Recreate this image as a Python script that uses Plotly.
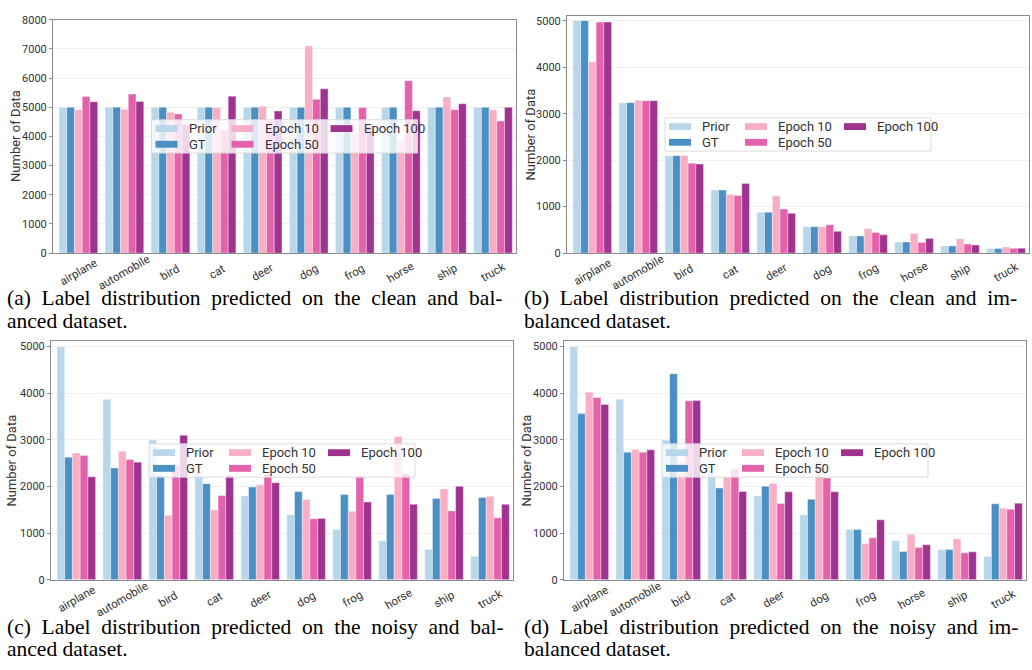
import plotly.graph_objects as go

W, H = 1032, 670

categories = ["airplane", "automobile", "bird", "cat", "deer", "dog", "frog", "horse", "ship", "truck"]
series_names = ["Prior", "GT", "Epoch 10", "Epoch 50", "Epoch 100"]
colors = ["#b9d7ea", "#4a90c4", "#f8aec5", "#e462ab", "#a0338f"]

# (a) clean, balanced
a_prior = [5000, 5000, 5000, 5000, 5000, 5000, 5000, 5000, 5000, 5000]
a_gt = [5000, 5000, 5000, 5000, 5000, 5000, 5000, 5000, 5000, 5000]
a_e10 = [4910, 4930, 4830, 4990, 5030, 7100, 4100, 3840, 5350, 4910]
a_e50 = [5370, 5450, 4765, 4220, 4550, 5270, 4990, 5910, 4920, 4530]
a_e100 = [5190, 5200, 4400, 5380, 4870, 5630, 4330, 4880, 5120, 5000]

# (b) clean, imbalanced
b_prior = [5000, 3237, 2096, 1357, 879, 569, 368, 238, 154, 100]
b_gt = [5000, 3237, 2096, 1357, 879, 569, 368, 238, 154, 100]
b_e10 = [4116, 3290, 2100, 1262, 1227, 568, 526, 421, 309, 133]
b_e50 = [4970, 3280, 1935, 1241, 947, 610, 442, 231, 196, 105]
b_e100 = [4970, 3280, 1915, 1500, 855, 470, 393, 316, 175, 105]

# (c) noisy, balanced
c_prior = [5000, 3871, 2997, 2320, 1796, 1391, 1077, 834, 645, 500]
c_gt = [2626, 2395, 2240, 2058, 1987, 1889, 1826, 1826, 1742, 1763]
c_e10 = [2718, 2753, 1383, 1496, 2037, 1720, 1468, 3069, 1945, 1791]
c_e50 = [2662, 2577, 2444, 1805, 2261, 1306, 2226, 2275, 1475, 1327]
c_e100 = [2205, 2521, 3097, 2240, 2079, 1313, 1664, 1615, 2001, 1615]

# (d) noisy, imbalanced
d_prior = [5000, 3871, 2997, 2320, 1796, 1391, 1077, 834, 645, 500]
d_gt = [3562, 2735, 4418, 1964, 2006, 1725, 1077, 603, 645, 1627]
d_e10 = [4018, 2791, 2546, 2202, 2062, 2546, 778, 968, 877, 1529]
d_e50 = [3906, 2735, 3836, 2384, 1634, 2181, 898, 687, 575, 1508]
d_e100 = [3759, 2784, 3843, 1893, 1886, 1886, 1283, 750, 596, 1641]

y_ticks_a = [0, 1000, 2000, 3000, 4000, 5000, 6000, 7000, 8000]
y_ticks_b = [0, 1000, 2000, 3000, 4000, 5000]

captions = [
    ["(a) Label distribution predicted on the clean and bal-", "anced dataset."],
    ["(b) Label distribution predicted on the clean and im-", "balanced dataset."],
    ["(c) Label distribution predicted on the noisy and bal-", "anced dataset."],
    ["(d) Label distribution predicted on the noisy and im-", "balanced dataset."],
]

panels = [
    dict(data=[a_prior, a_gt, a_e10, a_e50, a_e100], box=(53, 14, 516, 252), yr=8000, ticks=y_ticks_a, title_x=15.5, cap=(5, 298)),
    dict(data=[b_prior, b_gt, b_e10, b_e50, b_e100], box=(567, 10, 1029, 252), yr=5105, ticks=y_ticks_b, title_x=530, cap=(522, 298)),
    dict(data=[c_prior, c_gt, c_e10, c_e50, c_e100], box=(51, 342, 513, 585), yr=5112, ticks=y_ticks_b, title_x=12, cap=(5, 633)),
    dict(data=[d_prior, d_gt, d_e10, d_e50, d_e100], box=(564, 342, 1026, 585), yr=5112, ticks=y_ticks_b, title_x=527, cap=(522, 633)),
]


def px(x):
    return x / W


def py(y):
    return 1 - y / H


JUST = " \u00a0"  # widened inter-word gap, mimicking justified text

fig = go.Figure()
shapes = []
annotations = []
layout = {}

for i, p in enumerate(panels):
    n = "" if i == 0 else str(i + 1)
    xa, ya = "x" + n, "y" + n
    x0, y0, x1, y1 = p["box"]
    for k, name in enumerate(series_names):
        fig.add_trace(go.Bar(
            x=categories, y=p["data"][k], name=name, xaxis=xa, yaxis=ya,
            marker=dict(color=colors[k], line=dict(color="rgba(255,255,255,0.6)", width=0.6)),
            offsetgroup=str(k), showlegend=False,
        ))
    layout["xaxis" + n] = dict(
        domain=[px(x0), px(x1)], anchor=ya, range=[-0.55, 9.5],
        showticklabels=False, ticks="", showgrid=False, zeroline=False,
        showline=True, linecolor="#8a8a8a", linewidth=1, mirror=True,
    )
    layout["yaxis" + n] = dict(
        domain=[py(y1), py(y0)], anchor=xa, range=[0, p["yr"]],
        tickvals=p["ticks"], ticks="outside", ticklen=3, tickcolor="#8a8a8a",
        tickfont=dict(family="Roboto", size=11, color="#333333"),
        showgrid=True, gridcolor="#f0f0f0", gridwidth=1, zeroline=False,
        showline=True, linecolor="#8a8a8a", linewidth=1, mirror=True,
    )
    for c in categories:
        annotations.append(dict(
            x=c, y=0, xref=xa, yref=ya, text=c, showarrow=False, textangle=-30,
            xanchor="center", yanchor="middle", yshift=-19,
            font=dict(family="Roboto", size=11.5, color="#333333"),
        ))
    annotations.append(dict(
        x=px(p["title_x"]), y=py((y0 + y1) / 2), xref="paper", yref="paper",
        text="Number of Data", showarrow=False, textangle=-90,
        xanchor="center", yanchor="middle",
        font=dict(family="Roboto", size=13, color="#333333"),
    ))
    # legend (drawn by hand, centred in the plot area, 3 columns)
    cx, cy = (x0 + x1) / 2, (y0 + y1) / 2
    lw, lh = 266, 34
    lx0, ly0 = cx - lw / 2, cy - lh / 2
    shapes.append(dict(
        type="rect", xref="paper", yref="paper", layer="above",
        x0=px(lx0), x1=px(lx0 + lw), y0=py(ly0 + lh), y1=py(ly0),
        fillcolor="rgba(255,255,255,0.8)", line=dict(color="rgba(215,215,215,0.9)", width=1),
    ))
    slots = [(0, 0), (0, 1), (1, 0), (1, 1), (2, 0)]
    col_patch = [4, 80, 179]
    col_text = [35, 111, 210]
    for k, name in enumerate(series_names):
        col, row = slots[k]
        ry = ly0 + 9 + row * 16
        shapes.append(dict(
            type="rect", xref="paper", yref="paper", layer="above",
            x0=px(lx0 + col_patch[col]), x1=px(lx0 + col_patch[col] + 22),
            y0=py(ry + 3.5), y1=py(ry - 3.5),
            fillcolor=colors[k], line=dict(width=0),
        ))
        annotations.append(dict(
            x=px(lx0 + col_text[col]), y=py(ry), xref="paper", yref="paper",
            text=name, showarrow=False, xanchor="left", yanchor="middle",
            font=dict(family="Roboto", size=13, color="#333333"),
        ))
    capx, capy = p["cap"]
    for li, line in enumerate(captions[i]):
        txt = line.replace(" ", JUST) if li == 0 else line
        annotations.append(dict(
            x=px(capx), y=py(capy + li * 23), xref="paper", yref="paper",
            text=txt, showarrow=False, xanchor="left", yanchor="middle",
            font=dict(family="Liberation Serif", size=21.5, color="#000000"),
        ))

fig.update_layout(
    width=W, height=H, margin=dict(l=0, r=0, t=0, b=0),
    paper_bgcolor="white", plot_bgcolor="white",
    barmode="group", bargap=0.16, bargroupgap=0,
    shapes=shapes, annotations=annotations, showlegend=False,
    **layout,
)

fig.write_html(
    "out.html",
    config={"displayModeBar": False},
    post_script="document.body.style.margin='0';document.body.style.overflow='hidden';",
)
